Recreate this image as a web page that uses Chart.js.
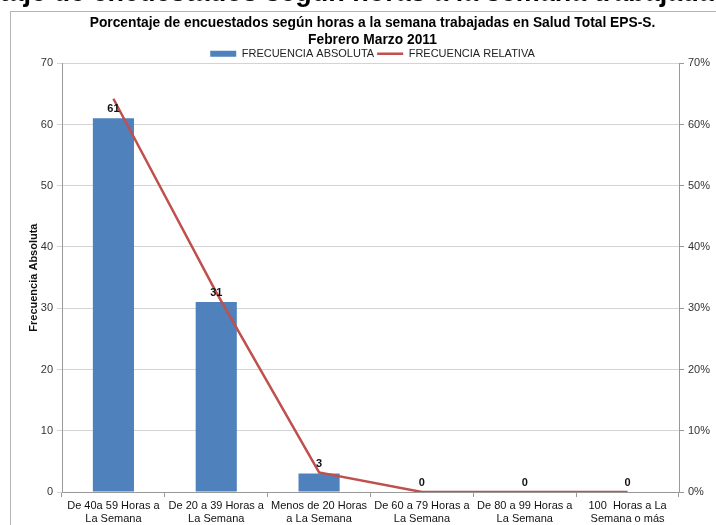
<!DOCTYPE html>
<html>
<head>
<meta charset="utf-8">
<script src="https://cdn.jsdelivr.net/npm/chart.js@4"></script>
<style>
  html, body { margin: 0; padding: 0; background: #fff; overflow: hidden; }
  #wrap { position: relative; width: 716px; height: 525px; overflow: hidden; }
  #myChart { position: absolute; left: 0; top: 0; }
  #bigTitle {
    position: absolute; left: -92px; top: -23px;
    font: bold 27px "Liberation Sans", Arial, sans-serif;
    color: #000; white-space: nowrap;
  }
</style>
</head>
<body>
<div id="wrap">
  <canvas id="myChart" width="745" height="545"></canvas>
  <div id="bigTitle">Porcentaje de encuestados según horas a la semana trabajadas</div>
</div>
<script>
// data
const categories = [
  ["De 40a 59 Horas a", "La Semana"],
  ["De 20 a 39 Horas a", "La Semana"],
  ["Menos de 20 Horas", "a La Semana"],
  ["De 60 a 79 Horas a", "La Semana"],
  ["De 80 a 99 Horas a", "La Semana"],
  ["100  Horas a La", "Semana o más"],
];
const absolute = [61, 31, 3, 0, 0, 0];
const relative = [64.2, 32.6, 3.2, 0, 0, 0];
const leftTicks = [0, 10, 20, 30, 40, 50, 60, 70];
const rightTicks = ["0%", "10%", "20%", "30%", "40%", "50%", "60%", "70%"];

const FONT = "'Liberation Sans', Arial, sans-serif";

// gray frame around the chart
const framePlugin = {
  id: "frame",
  beforeDraw(chart) {
    const c = chart.ctx;
    c.save();
    c.strokeStyle = "#b4b4b4";
    c.lineWidth = 1;
    c.strokeRect(10.5, 11.5, 900, 700);
    c.restore();
  },
};

// legend sits closer to the plot than the default 10px gap
const legendFit = {
  id: "legendFit",
  beforeLayout(chart) {
    const legend = chart.legend;
    if (legend && !legend.tightFit) {
      const fit = legend.fit;
      legend.fit = function () {
        fit.call(this);
        this.height -= 6;
      };
      legend.tightFit = true;
    }
  },
};

// value labels over the bars
const barLabels = {
  id: "barLabels",
  afterDatasetsDraw(chart) {
    const c = chart.ctx;
    const meta = chart.getDatasetMeta(0);
    c.save();
    c.font = "bold 11px " + FONT;
    c.fillStyle = "#111";
    c.textAlign = "center";
    c.textBaseline = "bottom";
    meta.data.forEach((bar, i) => {
      c.fillText(String(absolute[i]), bar.x, bar.y - 4);
    });
    c.restore();
  },
};

const ctx = document.getElementById("myChart");

new Chart(ctx, {
  type: "bar",
  data: {
    labels: categories,
    datasets: [
      {
        label: "FRECUENCIA ABSOLUTA",
        data: absolute,
        backgroundColor: "#4F81BD",
        barPercentage: 0.4,
        categoryPercentage: 1,
        yAxisID: "y",
        order: 1,
        pointStyle: "rect",
      },
      {
        type: "line",
        label: "FRECUENCIA RELATIVA",
        data: relative,
        borderColor: "#C0504D",
        backgroundColor: "#C0504D",
        borderWidth: 2.5,
        pointRadius: 0,
        tension: 0,
        yAxisID: "y1",
        order: 0,
        pointStyle: "line",
      },
    ],
  },
  plugins: [framePlugin, legendFit, barLabels],
  options: {
    responsive: false,
    animation: false,
    layout: { padding: { top: 0, left: 0, right: 0, bottom: 0 } },
    plugins: {
      tooltip: { enabled: false },
      title: {
        display: true,
        text: [
          "Porcentaje de encuestados según horas a la semana trabajadas en Salud Total EPS-S.",
          "Febrero Marzo 2011",
        ],
        color: "#000",
        font: { family: FONT, size: 13.8, weight: "bold", lineHeight: 1.2 },
        padding: { top: 15, bottom: -2.9 },
      },
      legend: {
        labels: {
          usePointStyle: true,
          pointStyleWidth: 26,
          boxHeight: 6,
          padding: 3,
          color: "#222",
          font: { family: FONT, size: 11 },
          sort: (a, b) => a.datasetIndex - b.datasetIndex,
        },
      },
    },
    scales: {
      x: {
        offset: true,
        grid: {
          display: true,
          offset: true,
          drawOnChartArea: false,
          tickLength: 5,
          color: "#999",
        },
        border: { color: "#999" },
        ticks: {
          color: "#111",
          font: { family: FONT, size: 11 },
          padding: 2,
          maxRotation: 0,
          autoSkip: false,
        },
        afterFit: (scale) => { scale.height = 53; },
      },
      y: {
        position: "left",
        min: 0,
        max: 70,
        afterBuildTicks: (scale) => {
          scale.ticks = leftTicks.map((v) => ({ value: v }));
        },
        grid: { color: "#d4d4d4", tickLength: 5 },
        border: { color: "#999" },
        ticks: {
          color: "#333",
          font: { family: FONT, size: 11 },
          padding: 4,
        },
        title: {
          display: true,
          text: "Frecuencia Absoluta",
          color: "#111",
          font: { family: FONT, size: 11, weight: "bold" },
          padding: { top: 27, bottom: 0 },
        },
        afterFit: (scale) => { scale.width = 62; },
      },
      y1: {
        position: "right",
        min: 0,
        max: 70,
        afterBuildTicks: (scale) => {
          scale.ticks = leftTicks.map((v) => ({ value: v }));
        },
        grid: { drawOnChartArea: false, color: "#999", tickLength: 5 },
        border: { color: "#999" },
        ticks: {
          color: "#333",
          font: { family: FONT, size: 11 },
          padding: 4,
          callback: (value, i) => rightTicks[i],
        },
        title: {
          display: true,
          text: "Frecuencia Relativa",
          color: "#111",
          font: { family: FONT, size: 11, weight: "bold" },
          padding: { top: 18, bottom: 0 },
        },
        afterFit: (scale) => { scale.width = 66; },
      },
    },
  },
});
</script>
</body>
</html>
